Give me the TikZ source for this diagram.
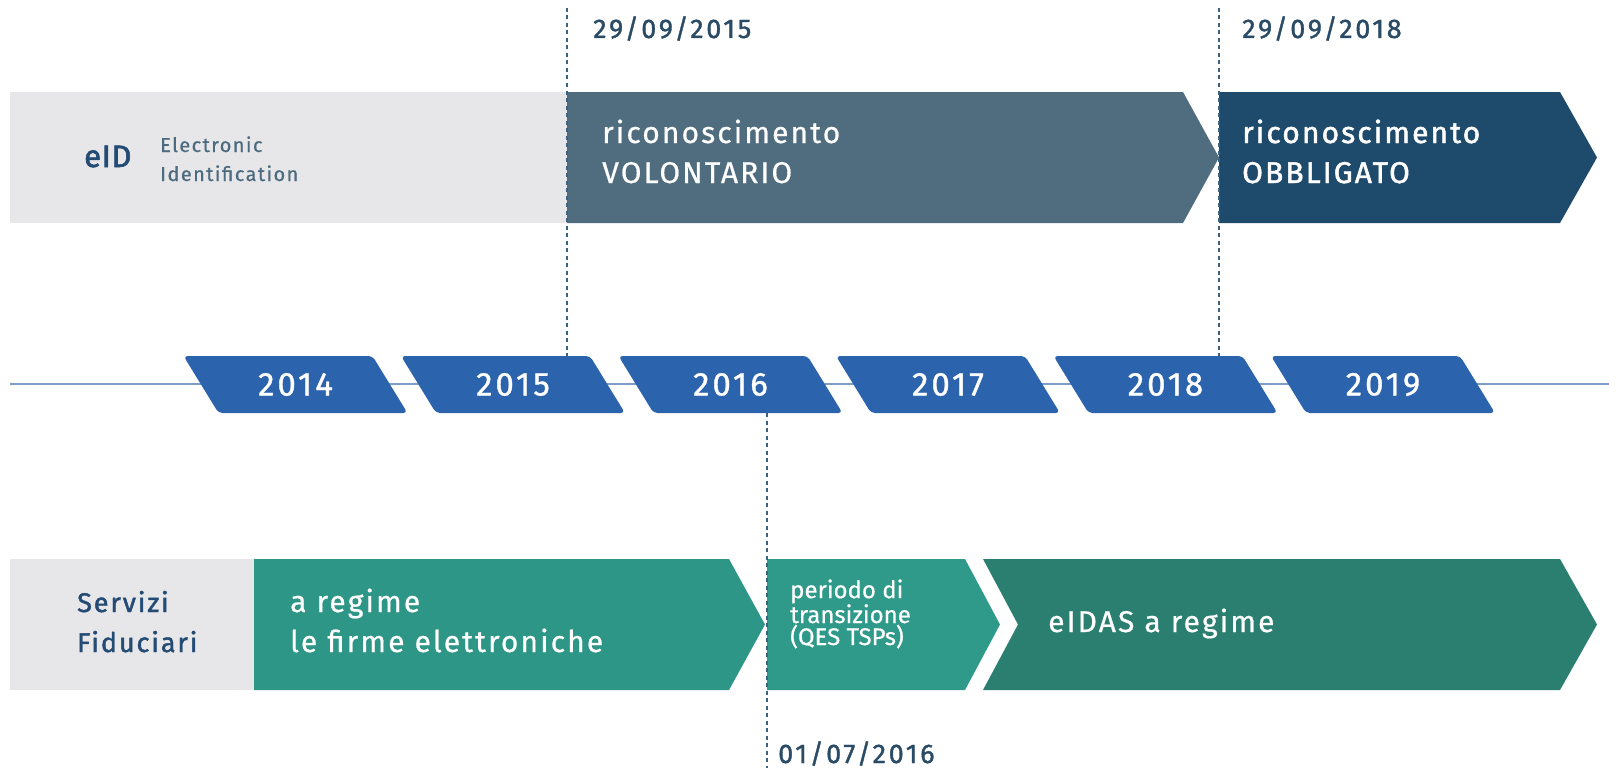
\documentclass[tikz,border=0pt]{standalone}
\usepackage{fontspec}
\setmainfont{Fira Sans}[LetterSpace=7,FakeBold=0.6]
\newfontfamily\medfont{Fira Sans}[LetterSpace=7,FakeBold=1.6]
\newfontfamily\yearfont{Fira Sans}[LetterSpace=9,FakeBold=1]
\newfontfamily\datefont{Fira Sans}[LetterSpace=10,FakeBold=1.3]
\newfontfamily\eidfont{Fira Sans}[LetterSpace=2,FakeBold=2]
\newfontfamily\plainfont{Fira Sans}[FakeBold=0.6]
\usetikzlibrary{positioning}

\definecolor{bandgrey}{HTML}{E7E7E9}
\definecolor{volblue}{HTML}{506C7F}
\definecolor{obbblue}{HTML}{1E4A6B}
\definecolor{yearblue}{HTML}{2C63AD}
\definecolor{lineblue}{HTML}{7E9CC8}
\definecolor{tealA}{HTML}{2E9686}
\definecolor{tealB}{HTML}{2F9A8A}
\definecolor{tealC}{HTML}{2B7F71}
\definecolor{inkblue}{HTML}{234B74}
\definecolor{greyink}{HTML}{4C6A80}
\definecolor{dateink}{HTML}{2A4B66}
\definecolor{dashink}{HTML}{3A6482}

\tikzset{
  whitetxt/.style={text=white,align=left,anchor=base west,inner sep=0pt,font=\fontsize{30}{40}\selectfont},
  smalltxt/.style={align=left,anchor=base west,inner sep=0pt,font=\fontsize{20}{29}\selectfont},
  datetxt/.style={text=dateink,anchor=base west,inner sep=0pt,font=\fontsize{27}{30}\datefont},
  yeartxt/.style={text=white,inner sep=0pt,minimum width=189pt,minimum height=57pt,font=\fontsize{33}{35}\yearfont},
  dateline/.style={dashink,line width=1.6pt,dash pattern=on 4pt off 3.5pt},
}

\begin{document}
\begin{tikzpicture}[x=1pt,y=-1pt]
\useasboundingbox (0,0) rectangle (1609,768);

% eID band
\fill[bandgrey] (10,92) rectangle (567,223);
\fill[volblue] (567,92) -- (1183,92) -- (1219,157.5) -- (1183,223) -- (567,223) -- cycle; % voluntary
\fill[obbblue] (1219,92) -- (1560,92) -- (1597,157.5) -- (1560,223) -- (1219,223) -- cycle; % mandatory
\node[anchor=base west,inner sep=0pt,text=inkblue,font=\fontsize{31}{31}\eidfont] (eid) at (84,167) {eID};
\node[smalltxt,text=greyink] (eidname) at (160,181) {Electronic\\Identification}; % last line baseline
\node[whitetxt] (vol) at (602,183) {riconoscimento\\VOLONTARIO};
\node[whitetxt,font=\fontsize{30}{40}\medfont] (obb) at (1242,183) {riconoscimento\\OBBLIGATO};

% Timeline
\draw[lineblue,line width=1.8pt] (10,384) -- (1609,384);
\foreach \yr [count=\i from 0] in {2014,...,2019}{
  \pgfmathsetmacro{\cx}{295.5+217.5*\i}
  \fill[yearblue,rounded corners=4pt] (\cx-112,356) -- (\cx+77,356) -- (\cx+112,413) -- (\cx-77,413) -- cycle;
  \node[yeartxt] (y\yr) at (\cx,384.5) {\yr};
}

% Trust services band
\fill[bandgrey] (10,559) rectangle (254,690);
\fill[tealA] (254,559) -- (729,559) -- (765,624.5) -- (729,690) -- (254,690) -- cycle;
\fill[tealB] (767,559) -- (965,559) -- (1000,624.5) -- (965,690) -- (767,690) -- cycle;
\fill[tealC] (983,559) -- (1560,559) -- (1597,624.5) -- (1560,690) -- (983,690) -- (1018,624.5) -- cycle;
\node[whitetxt,text=inkblue,font=\fontsize{27}{40}\medfont] (serv) at (77,652) {Servizi\\Fiduciari};
\node[whitetxt] (regime) at (290,652) {a regime\\le firme elettroniche};
\node[smalltxt,text=white,font=\fontsize{24}{22}\plainfont] (trans) at (790,645) {periodo di\\transizione\\(QES TSPs)};
\node[whitetxt] (eidas) at (1048,632) {eIDAS a regime};

% Dates
\node[datetxt] (date1) at (593,38) {29/09/2015};
\node[datetxt] (date2) at (1242,38) {29/09/2018};
\node[datetxt] (date3) at (778,763) {01/07/2016};
\coordinate (d1) at (567,8);
\coordinate (d2) at (1219,8);
\coordinate (d3) at (767,768);
\draw[dateline] (d1) -- (d1 |- y2015.north);
\draw[dateline] (d2) -- (d2 |- y2018.north);
\draw[dateline] (d3 |- y2016.south) -- (d3);
\end{tikzpicture}
\end{document}
